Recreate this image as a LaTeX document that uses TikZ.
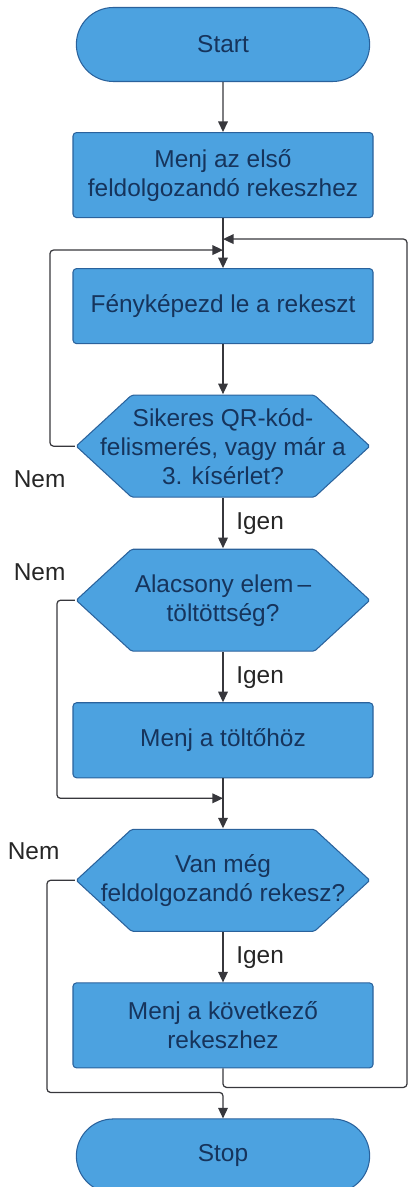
\documentclass[tikz,border=0pt]{standalone}
\usepackage{fontspec}
\setmainfont{Liberation Sans}
\usetikzlibrary{positioning}
\usetikzlibrary{shapes.misc}
\usetikzlibrary{arrows.meta}

\definecolor{boxfill}{RGB}{76,162,224}
\definecolor{boxline}{RGB}{42,98,156}
\definecolor{boxtext}{RGB}{22,52,92}
\definecolor{linegray}{RGB}{55,55,60}

\tikzset{
  base/.style={draw=boxline, fill=boxfill, text=boxtext, line width=0.6pt,
    align=center, font=\fontsize{13.9}{16.5}\selectfont},
  term/.style={base, rounded rectangle, minimum width=6.1cm, minimum height=1.48cm},
  proc/.style={base, rectangle, rounded corners=2pt, minimum width=6cm, minimum height=1.5cm},
  decide/.style={base, rectangle, draw=none, fill=none, minimum width=5.9cm,
    minimum height=2.06cm, inner sep=0pt,
    path picture={
      \filldraw[fill=boxfill, draw=boxline, line width=0.6pt, rounded corners=1pt]
        ([xshift=0.4pt]path picture bounding box.west)
        -- ([xshift=1.12cm, yshift=-0.3pt]path picture bounding box.north west)
        -- ([xshift=-1.12cm, yshift=-0.3pt]path picture bounding box.north east)
        -- ([xshift=-0.4pt]path picture bounding box.east)
        -- ([xshift=-1.12cm, yshift=0.3pt]path picture bounding box.south east)
        -- ([xshift=1.12cm, yshift=0.3pt]path picture bounding box.south west)
        -- cycle;
    }},
  flow/.style={draw=linegray, line width=0.7pt, -{Triangle[length=6pt,width=5.5pt]}},
  lbl/.style={text=black!85, font=\fontsize{13.9}{16.5}\selectfont, inner sep=1pt}
}

\begin{document}
\begin{tikzpicture}[node distance=1cm]
  \useasboundingbox (0,0) rectangle (8.2,-23.74);

  % Define nodes
  \node[term]                              (start)   at (4.46,-0.89) {Start};
  \node[proc, minimum height=1.7cm, below=of start] (first)   {Menj az első\\feldolgozandó rekeszhez};
  \node[proc, below=of first]              (photo)   {Fényképezd le a rekeszt};
  \node[decide, below=of photo]            (qr)      {Sikeres QR-kód-\\felismerés, vagy már a\\3. kísérlet?};
  \node[decide, below=of qr]               (battery) {Alacsony elem\,–\\töltöttség?};
  \node[proc, below=of battery]            (charge)  {Menj a töltőhöz};
  \node[decide, below=of charge]           (more)    {Van még\\feldolgozandó rekesz?};
  \node[proc, minimum height=1.7cm, below=of more]  (next)    {Menj a következő\\rekeszhez};
  \node[term, below=of next]               (stop)    {Stop};

  % Branch labels
  \node[lbl, below left=0.44cm and 0.15cm of qr.west]      (nem1) {Nem};
  \node[lbl, above left=0.35cm and 0.15cm of battery.west] (nem2) {Nem};
  \node[lbl, above left=0.37cm and 0.27cm of more.west]    (nem3) {Nem};

  % Join points
  \coordinate (loopin)   at ([yshift=0.36cm]photo.north);
  \coordinate (backin)   at ([yshift=0.58cm]photo.north);
  \coordinate (chargein) at ([yshift=-0.4cm]charge.south);
  \coordinate (stopin)   at ([yshift=0.52cm]stop.north);
  \coordinate (rightx)   at (8.14,0);

  % Connect the nodes
  \draw[flow] (start) -- (first);
  \draw[flow] (first) -- (photo);
  \draw[flow] (photo) -- (qr);
  \draw[flow] (qr) -- node[lbl, right=0.22cm] (igen1) {Igen} (battery);
  \draw[flow] (battery) -- node[lbl, right=0.22cm] (igen2) {Igen} (charge);
  \draw[flow] (charge) -- (more);
  \draw[flow] (more) -- node[lbl, right=0.22cm] (igen3) {Igen} (next);

  % Loops
  \draw[flow, rounded corners=2pt] (qr.west) -- ++(-0.5,0) |- (loopin);
  \draw[flow, rounded corners=2pt] (battery.west) -- ++(-0.36,0) |- (chargein);
  \draw[flow, rounded corners=2pt] (more.west) -- ++(-0.56,0) |- (stopin) -- (stop);
  \draw[flow, rounded corners=2pt] (next.south) -- ++(0,-0.38) -| (rightx |- backin) -- (backin);
\end{tikzpicture}
\end{document}
